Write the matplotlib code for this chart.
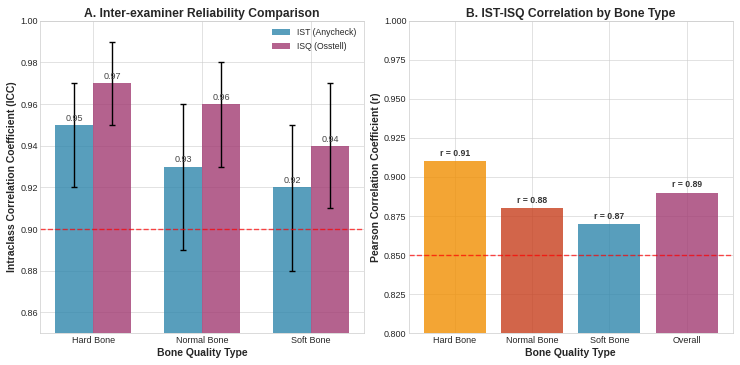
import numpy as np
import matplotlib
matplotlib.use("Agg")
import matplotlib.pyplot as plt

plt.style.use("seaborn-v0_8-whitegrid")
plt.rcParams["font.family"] = ["Liberation Sans", "DejaVu Sans"]

# panel A data
bone_types = ["Hard Bone", "Normal Bone", "Soft Bone"]
icc_ist = [0.95, 0.93, 0.92]
icc_isq = [0.97, 0.96, 0.94]
ist_lo = [0.92, 0.89, 0.88]
ist_hi = [0.97, 0.96, 0.95]
isq_lo = [0.95, 0.93, 0.91]
isq_hi = [0.99, 0.98, 0.97]

# panel B data
corr_labels = ["Hard Bone", "Normal Bone", "Soft Bone", "Overall"]
corr_r = [0.91, 0.88, 0.87, 0.89]

c_ist, c_isq = "#2E86AB", "#A23B72"
corr_colors = ["#F18F01", "#C73E1D", "#2E86AB", "#A23B72"]

fig, (ax1, ax2) = plt.subplots(1, 2, figsize=(14.8, 7.3), dpi=50)

x = np.arange(len(bone_types))
w = 0.35
ist_err = [np.array(icc_ist) - ist_lo, np.array(ist_hi) - icc_ist]
isq_err = [np.array(icc_isq) - isq_lo, np.array(isq_hi) - icc_isq]
b1 = ax1.bar(x - w/2, icc_ist, w, yerr=ist_err, capsize=5, color=c_ist, alpha=0.8,
             label="IST (Anycheck)", error_kw=dict(lw=2, capthick=2))
b2 = ax1.bar(x + w/2, icc_isq, w, yerr=isq_err, capsize=5, color=c_isq, alpha=0.8,
             label="ISQ (Osstell)", error_kw=dict(lw=2, capthick=2))
for bars in (b1, b2):
    for b in bars:
        h = b.get_height()
        ax1.text(b.get_x() + b.get_width()/2, h + 0.001, f"{h:.2f}", ha="center", va="bottom",
                 fontsize=13, color="#444444")
ax1.axhline(0.90, color="red", ls="--", lw=2, alpha=0.7)
ax1.set_ylim(0.85, 1.0)
ax1.set_xticks(x)
ax1.set_xticklabels(bone_types)
ax1.set_xlabel("Bone Quality Type", fontsize=15, fontweight="bold")
ax1.set_ylabel("Intraclass Correlation Coefficient (ICC)", fontsize=15, fontweight="bold")
ax1.set_title("A. Inter-examiner Reliability Comparison", fontsize=17.5, fontweight="bold")
ax1.legend(loc="upper right", fontsize=12.5)
ax1.tick_params(labelsize=13)

xb = np.arange(len(corr_labels))
bars = ax2.bar(xb, corr_r, 0.8, color=corr_colors, alpha=0.8)
for b in bars:
    h = b.get_height()
    ax2.text(b.get_x() + b.get_width()/2, h + 0.002, f"r = {h:.2f}", ha="center", va="bottom",
             fontsize=12.5, fontweight="bold", color="#333333")
ax2.axhline(0.85, color="red", ls="--", lw=2, alpha=0.7)
ax2.set_ylim(0.80, 1.0)
ax2.set_xticks(xb)
ax2.set_xticklabels(corr_labels)
ax2.set_xlabel("Bone Quality Type", fontsize=15, fontweight="bold")
ax2.set_ylabel("Pearson Correlation Coefficient (r)", fontsize=15, fontweight="bold")
ax2.set_title("B. IST-ISQ Correlation by Bone Type", fontsize=17.5, fontweight="bold")
ax2.tick_params(labelsize=13)

for ax in (ax1, ax2):
    for s in ax.spines.values():
        s.set_visible(True)
        s.set_color("#cccccc")

fig.tight_layout()
fig.savefig("out.png", dpi=50)
